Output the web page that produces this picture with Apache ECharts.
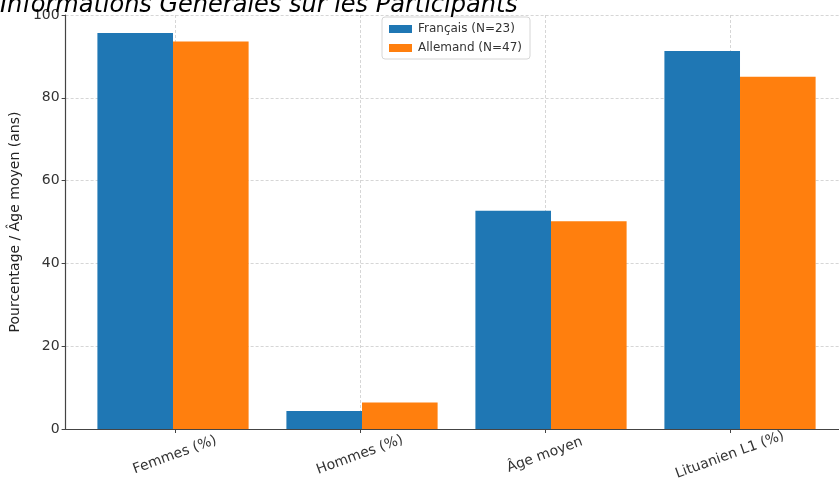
<!DOCTYPE html>
<html>
<head>
<meta charset="utf-8">
<script src="https://cdn.jsdelivr.net/npm/echarts@6/dist/echarts.min.js"></script>
<style>
  html, body { margin: 0; padding: 0; background: #fff; }
  #chart { width: 839px; height: 485px; }
</style>
</head>
<body>
<div id="chart"></div>
<script>
// Participant profile: two language groups across four measures
const categories = ['Femmes (%)', 'Hommes (%)', 'Âge moyen', 'Lituanien L1 (%)'];
const francais = [95.65, 4.35, 52.7, 91.3];
const allemand = [93.6, 6.4, 50.2, 85.1];
const seriesNames = ['Français (N=23)', 'Allemand (N=47)'];
const yTicks = [0, 20, 40, 60, 80, 100];
const categoryPositions = [0, 1, 2, 3];

const FONT = 'DejaVu Sans';
const chart = echarts.init(document.getElementById('chart'), null, { renderer: 'canvas' });

// Axis frame: the x range runs from -0.59 to 3.59 category units (189 px each).
const UNIT = 189;
const X_MIN = -0.59, X_MAX = 3.59;
const frameLeft = 61.5;
const frameWidth = (X_MAX - X_MIN) * UNIT;
// The bar grid spans exactly the four category bands so bars sit on the same centres.
const barLeft = frameLeft + (0 - X_MIN) * UNIT - UNIT / 2;
const barWidthPx = UNIT * 0.4;

const gridLine = { show: true, lineStyle: { color: '#cccccc', type: [3, 2], width: 0.8 } };

chart.setOption({
  animation: false,
  backgroundColor: '#ffffff',
  title: {
    text: 'Informations Générales sur les Participants',
    left: 0,
    top: -6,
    padding: 0,
    textStyle: { fontFamily: FONT, fontStyle: 'italic', fontWeight: 'normal', fontSize: 24, color: '#000' }
  },
  legend: {
    orient: 'vertical',
    left: 382,
    top: 17,
    padding: [6, 8, 5, 7],
    itemWidth: 23,
    itemHeight: 8,
    itemGap: 7,
    borderColor: '#d6d6d6',
    borderWidth: 1,
    borderRadius: 3,
    backgroundColor: 'rgba(255,255,255,0.85)',
    icon: 'rect',
    data: seriesNames,
    textStyle: { fontFamily: FONT, fontSize: 12, color: '#333', padding: [0, 0, 0, 1] }
  },
  grid: [
    { left: frameLeft, top: 15, width: frameWidth, height: 414, containLabel: false },
    { left: barLeft, top: 15, width: UNIT * 4, height: 414, containLabel: false }
  ],
  xAxis: [
    {
      type: 'value',
      gridIndex: 0,
      min: X_MIN,
      max: X_MAX,
      axisLine: { show: true, onZero: false, lineStyle: { color: '#444', width: 1.2 } },
      axisTick: { show: true, length: 4, customValues: categoryPositions, lineStyle: { color: '#444' } },
      axisLabel: {
        customValues: categoryPositions,
        formatter: v => categories[Math.round(v)] || '',
        rotate: 20,
        align: 'center',
        verticalAlign: 'middle',
        margin: 26,
        fontFamily: FONT,
        fontSize: 14,
        color: '#333'
      },
      splitLine: gridLine
    },
    {
      type: 'category',
      gridIndex: 1,
      data: categories,
      show: false
    }
  ],
  yAxis: [
    {
      type: 'value',
      gridIndex: 0,
      min: 0,
      max: 100,
      interval: 20,
      name: 'Pourcentage / Âge moyen (ans)',
      nameLocation: 'middle',
      nameGap: 38,
      nameTextStyle: { fontFamily: FONT, fontSize: 14, color: '#222' },
      axisLine: { show: true, onZero: false, lineStyle: { color: '#444', width: 1.2 } },
      axisTick: { show: true, length: 4, lineStyle: { color: '#444' } },
      axisLabel: {
        formatter: v => (yTicks.includes(v) ? String(v) : ''),
        margin: 6,
        fontFamily: FONT,
        fontSize: 14,
        color: '#333'
      },
      splitLine: gridLine
    },
    {
      type: 'value',
      gridIndex: 1,
      min: 0,
      max: 100,
      show: false,
      splitLine: { show: false }
    }
  ],
  series: [
    {
      name: seriesNames[0],
      type: 'bar',
      xAxisIndex: 1,
      yAxisIndex: 1,
      data: francais,
      barWidth: barWidthPx,
      barGap: '0%',
      itemStyle: { color: '#1f77b4' }
    },
    {
      name: seriesNames[1],
      type: 'bar',
      xAxisIndex: 1,
      yAxisIndex: 1,
      data: allemand,
      barWidth: barWidthPx,
      barGap: '0%',
      itemStyle: { color: '#ff7f0e' }
    }
  ]
});
</script>
</body>
</html>
